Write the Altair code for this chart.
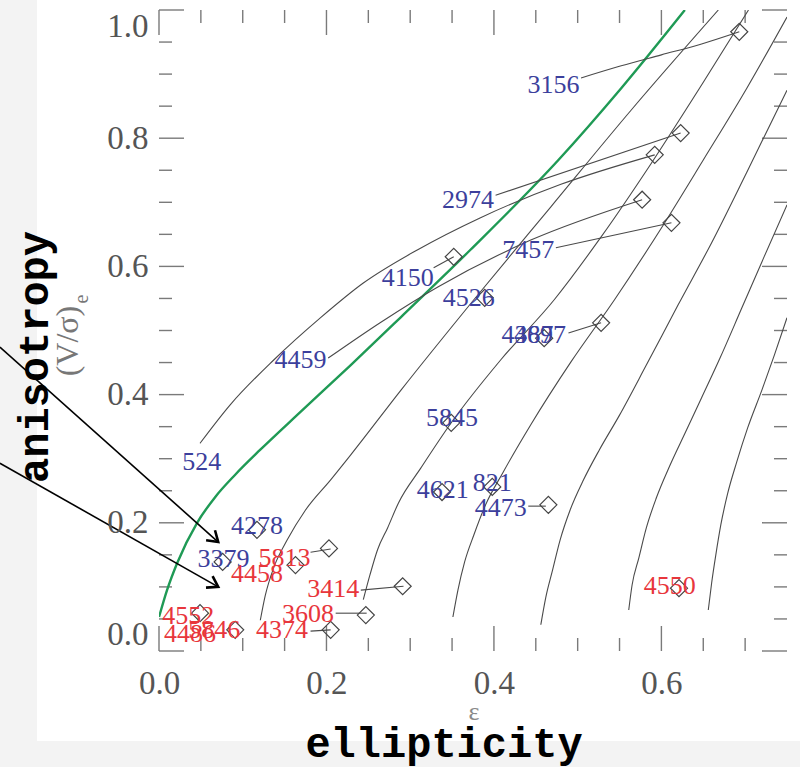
import math
import altair as alt
import pandas as pd

# ---------------- data (epsilon, (V/sigma)_e) ----------------
X_MAJOR = [0.0, 0.2, 0.4, 0.6]
X_MINOR = [0.05, 0.1, 0.15, 0.25, 0.3, 0.35, 0.45, 0.5, 0.55, 0.65, 0.7]
Y_MAJOR = [0.0, 0.2, 0.4, 0.6, 0.8, 1.0]
Y_MINOR = [0.05, 0.1, 0.15, 0.25, 0.3, 0.35, 0.45, 0.5, 0.55, 0.65, 0.7, 0.75, 0.85, 0.9, 0.95]

GREEN_EPS = [0.0, 0.0096, 0.0216, 0.0455, 0.067, 0.091, 0.121, 0.169, 0.229, 0.289, 0.372, 0.477, 0.552, 0.628]
GREEN_V = [0.053, 0.095, 0.137, 0.200, 0.240, 0.275, 0.314, 0.373, 0.446, 0.521, 0.626, 0.766, 0.878, 1.0]

C1_EPS = [0.121, 0.127, 0.137, 0.153, 0.175, 0.205, 0.229, 0.289, 0.376, 0.468, 0.564, 0.668]
C1_V = [0.048, 0.087, 0.130, 0.173, 0.220, 0.267, 0.306, 0.407, 0.548, 0.693, 0.844, 1.0]
C2_EPS = [0.244, 0.252, 0.261, 0.273, 0.286, 0.313, 0.349, 0.408, 0.472, 0.528, 0.588, 0.648, 0.704]
C2_V = [0.080, 0.119, 0.158, 0.192, 0.231, 0.286, 0.356, 0.454, 0.548, 0.646, 0.761, 0.883, 1.0]
C3_EPS = [0.351, 0.357, 0.365, 0.376, 0.390, 0.411, 0.444, 0.492, 0.544, 0.600, 0.650, 0.702, 0.75]
C3_V = [0.053, 0.095, 0.139, 0.181, 0.228, 0.279, 0.353, 0.451, 0.548, 0.660, 0.766, 0.878, 0.989]
C4_EPS = [0.456, 0.462, 0.470, 0.479, 0.491, 0.507, 0.526, 0.550, 0.582, 0.620, 0.660, 0.702, 0.75]
C4_V = [0.041, 0.084, 0.126, 0.173, 0.220, 0.267, 0.314, 0.368, 0.446, 0.540, 0.637, 0.747, 0.875]
C5_EPS = [0.561, 0.565, 0.573, 0.582, 0.594, 0.610, 0.629, 0.648, 0.670, 0.696, 0.723, 0.75]
C5_V = [0.064, 0.103, 0.145, 0.192, 0.239, 0.289, 0.342, 0.395, 0.457, 0.535, 0.616, 0.696]
C6_EPS = [0.656, 0.660, 0.665, 0.671, 0.679, 0.690, 0.703, 0.720, 0.735, 0.75]
C6_V = [0.064, 0.106, 0.150, 0.197, 0.245, 0.295, 0.348, 0.407, 0.462, 0.520]

# inclination tracks / connectors from the observed label to the edge-on diamond
TRACKS = {
    "524": ([0.049, 0.085, 0.137, 0.193, 0.244, 0.309, 0.384, 0.480, 0.592],
            [0.324, 0.384, 0.454, 0.520, 0.574, 0.626, 0.676, 0.728, 0.774]),
    "4459": ([0.202, 0.265, 0.333, 0.444, 0.577], [0.457, 0.513, 0.568, 0.641, 0.704]),
    "3156": ([0.504, 0.552, 0.600, 0.648, 0.693], [0.894, 0.913, 0.930, 0.947, 0.966]),
    "2974": ([0.402, 0.623], [0.711, 0.808]),
    "7457": ([0.474, 0.612], [0.629, 0.668]),
    "4150": ([0.328, 0.352], [0.598, 0.615]),
    "4697": ([0.489, 0.528], [0.496, 0.512]),
    "4473": ([0.441, 0.462], [0.226, 0.226]),
    "5813": ([0.181, 0.205], [0.154, 0.159]),
    "3414": ([0.241, 0.292], [0.095, 0.101]),
    "3608": ([0.211, 0.248], [0.059, 0.059]),
    "4374": ([0.181, 0.205], [0.031, 0.033]),
}

DIAMOND_EPS = [0.693, 0.623, 0.592, 0.577, 0.612, 0.352, 0.528, 0.389, 0.460, 0.349, 0.338, 0.398,
               0.465, 0.117, 0.076, 0.203, 0.163, 0.291, 0.247, 0.049, 0.091, 0.205, 0.621]
DIAMOND_V = [0.966, 0.808, 0.774, 0.704, 0.668, 0.615, 0.512, 0.551, 0.488, 0.356, 0.248, 0.256,
             0.228, 0.189, 0.139, 0.160, 0.134, 0.101, 0.056, 0.059, 0.033, 0.033, 0.098]

LABEL_TEXT = ["3156", "2974", "7457", "4150", "4526", "4387", "4697", "4459", "5845", "524", "4621",
              "821", "4473", "4278", "3379",
              "5813", "4458", "3414", "3608", "4552", "4486", "5846", "4374", "4550"]
LABEL_EPS = [0.471, 0.369, 0.441, 0.297, 0.370, 0.440, 0.455, 0.169, 0.350, 0.051, 0.339,
             0.398, 0.408, 0.117, 0.077,
             0.150, 0.117, 0.208, 0.178, 0.035, 0.037, 0.066, 0.147, 0.610]
LABEL_V = [0.883, 0.704, 0.626, 0.582, 0.551, 0.493, 0.493, 0.454, 0.364, 0.295, 0.251,
           0.262, 0.223, 0.195, 0.144,
           0.145, 0.120, 0.097, 0.058, 0.055, 0.027, 0.033, 0.033, 0.101]
LABEL_GROUP = ["fast"] * 15 + ["slow"] * 9

# overlay annotation arrows (start -> head), in the same axis units
ARROW_EPS = [[-0.190, 0.0707], [-0.190, 0.0707]]
ARROW_V = [[0.474, 0.170], [0.293, 0.100]]

# ---------------- layout ----------------
W, H = 628, 641
PX_X = W / 0.75
PX_Y = H / 1.0
FRAME = "#7a7a7a"
SERIF = "Liberation Serif"
MONO = "Liberation Mono"

xs = alt.Scale(domain=[0, 0.75], nice=False, zero=False)
ys = alt.Scale(domain=[0, 1.0], nice=False, zero=False)

XAX = alt.Axis(values=X_MAJOR, format=".1f", labelFont=SERIF, labelFontSize=33, labelColor="#555555",
               ticks=False, domain=False, grid=False, labelPadding=16, title=None, labelOverlap=False,
               labelFlush=False, zindex=2)
YAX = alt.Axis(values=Y_MAJOR, format=".1f", labelFont=SERIF, labelFontSize=33, labelColor="#555555",
               ticks=False, domain=False, grid=False, labelPadding=11, title=None, labelOverlap=False,
               labelFlush=True, zindex=2)


def X(field):
    return alt.X(field, scale=xs, axis=XAX)


def Y(field):
    return alt.Y(field, scale=ys, axis=YAX)


def lines_df(d):
    rows = []
    for name, (e, v) in d.items():
        for i, (a, b) in enumerate(zip(e, v)):
            rows.append({"name": name, "eps": a, "v": b, "i": i})
    return pd.DataFrame(rows)


panel = alt.Chart(pd.DataFrame({"a": [0]})).mark_rect(color="white").encode(
    x=alt.value(37 - 159), x2=alt.value(800 - 159), y=alt.value(-10), y2=alt.value(741 - 10)
)

curves_df = lines_df({
    "c1": (C1_EPS, C1_V), "c2": (C2_EPS, C2_V), "c3": (C3_EPS, C3_V),
    "c4": (C4_EPS, C4_V), "c5": (C5_EPS, C5_V), "c6": (C6_EPS, C6_V),
})
curves = alt.Chart(curves_df).mark_line(color="#4a4a4a", strokeWidth=1.1, interpolate="monotone", clip=True).encode(
    x=X("eps:Q"), y=Y("v:Q"), detail="name:N", order="i:Q"
)

green = alt.Chart(pd.DataFrame({"eps": GREEN_EPS, "v": GREEN_V, "i": range(len(GREEN_V))})).mark_line(
    color="#1f9a55", strokeWidth=2.4, interpolate="monotone", clip=True
).encode(x=X("eps:Q"), y=Y("v:Q"), order="i:Q")

tracks = alt.Chart(lines_df(TRACKS)).mark_line(color="#4a4a4a", strokeWidth=1.1, interpolate="monotone").encode(
    x=X("eps:Q"), y=Y("v:Q"), detail="name:N", order="i:Q"
)

diamonds = alt.Chart(pd.DataFrame({"eps": DIAMOND_EPS, "v": DIAMOND_V})).mark_point(
    shape="diamond", filled=False, size=290, color="#444444", strokeWidth=1.2, opacity=1
).encode(x=X("eps:Q"), y=Y("v:Q"))

labels = alt.Chart(pd.DataFrame({"t": LABEL_TEXT, "eps": LABEL_EPS, "v": LABEL_V, "g": LABEL_GROUP})).mark_text(
    font=SERIF, fontSize=26, baseline="middle", align="center"
).encode(
    x=X("eps:Q"),
    y=Y("v:Q"),
    text="t:N",
    color=alt.Color("g:N", scale=alt.Scale(domain=["fast", "slow"], range=["#3c3f9c", "#e8363c"]), legend=None),
)


def tick_layer(vals, axis, side, length):
    base = alt.Chart(pd.DataFrame({"t": vals})).mark_rule(color=FRAME, strokeWidth=1.4)
    if axis == "x":
        y0, y1 = (H, H - length) if side == "bottom" else (0, length)
        return base.encode(x=X("t:Q"), y=alt.value(y0), y2=alt.value(y1))
    x0, x1 = (0, length) if side == "left" else (W - length, W)
    return base.encode(y=Y("t:Q"), x=alt.value(x0), x2=alt.value(x1))


ticks = [
    tick_layer(X_MAJOR, "x", "bottom", 25), tick_layer(X_MINOR, "x", "bottom", 13),
    tick_layer(X_MAJOR, "x", "top", 25), tick_layer(X_MINOR, "x", "top", 13),
    tick_layer(Y_MAJOR, "y", "left", 25), tick_layer(Y_MINOR, "y", "left", 13),
    tick_layer(Y_MAJOR, "y", "right", 25), tick_layer(Y_MINOR, "y", "right", 13),
]

arrow_rows, head_rows = [], []
for k, (e, v) in enumerate(zip(ARROW_EPS, ARROW_V)):
    for i in range(2):
        arrow_rows.append({"k": k, "i": i, "eps": e[i], "v": v[i]})
    ang = math.degrees(math.atan2((v[0] - v[1]) * PX_Y, (e[1] - e[0]) * PX_X))
    head_rows.append({"eps": e[1], "v": v[1], "ang": ang})

arrows = alt.Chart(pd.DataFrame(arrow_rows)).mark_line(color="black", strokeWidth=1.6, clip=False).encode(
    x=X("eps:Q"), y=Y("v:Q"), detail="k:N", order="i:Q"
)
heads = alt.Chart(pd.DataFrame(head_rows)).mark_point(
    shape="M-1,-0.65L0,0L-1,0.65", filled=False, size=420, color="black", strokeWidth=2.6, opacity=1
).encode(x=X("eps:Q"), y=Y("v:Q"), angle=alt.Angle("ang:Q", scale=None))


def text_at(s, x, y, **kw):
    return alt.Chart(pd.DataFrame({"t": [s]})).mark_text(**kw).encode(
        x=alt.value(x), y=alt.value(y), text="t:N")


eps_title = text_at("ε", 474 - 159, 712 - 10, font=SERIF, fontSize=26, color="#8a8a8a", baseline="middle")
vs_title = text_at("(V/σ)", 78 - 159, 341 - 10, font=SERIF, fontSize=32, color="#777777", angle=270,
                   baseline="alphabetic", align="center")
vs_sub = text_at("e", 88 - 159, 299 - 10, font=SERIF, fontSize=20, color="#777777", angle=270,
                 baseline="alphabetic", align="center")
aniso = text_at("anisotropy", 48 - 159, 357 - 10, font=MONO, fontSize=42, fontWeight="bold", color="black",
                angle=270, baseline="alphabetic", align="center")
ellip = text_at("ellipticity", 444 - 159, 757 - 10, font=MONO, fontSize=42, fontWeight="bold", color="black",
                baseline="alphabetic", align="center")

chart = alt.layer(
    panel, *ticks, curves, green, tracks, diamonds, labels, eps_title, vs_title, vs_sub, arrows, heads,
    aniso, ellip
).properties(
    width=W, height=H, background="#f3f3f3",
    padding={"left": 159, "top": 10, "right": 13, "bottom": 116},
    autosize=alt.AutoSizeParams(type="none"),
).configure_view(stroke=FRAME, strokeWidth=1.5)

chart.save("out.html", embed_options={"renderer": "svg", "actions": False})
